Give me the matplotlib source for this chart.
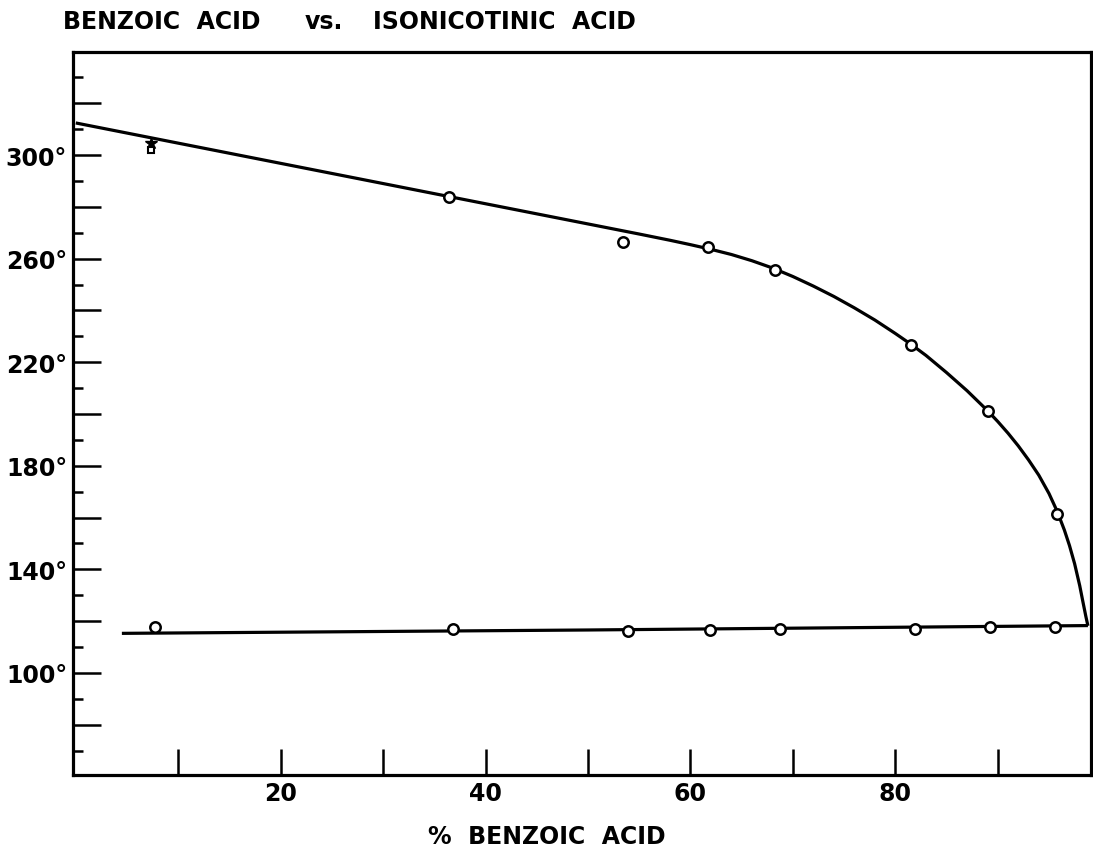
import matplotlib
matplotlib.use("Agg")
import matplotlib.pyplot as plt
from matplotlib.ticker import FixedLocator, NullFormatter, FixedFormatter

# ---- data ----
upper_x = [36.4, 53.4, 61.7, 68.3, 81.5, 89.0, 95.8]
upper_y = [283.9, 266.3, 264.6, 255.6, 226.8, 201.2, 161.4]

odd_x = [7.3]
odd_star_y = [304.6]
odd_square_y = [301.8]

lower_x = [7.7, 36.8, 53.9, 61.9, 68.7, 81.9, 89.2, 95.6]
lower_y = [117.6, 117.1, 116.4, 116.5, 117.0, 116.8, 117.6, 117.8]

# hand-drawn liquidus curve
liquidus_x = [0, 10, 20, 30, 40, 50, 55, 58, 60, 62, 64, 66, 68, 70, 72, 74, 76, 78,
              80, 81.5, 83, 85, 87, 89, 90, 91, 92, 93, 94, 95, 95.8, 96.5, 97,
              97.5, 98, 98.3, 98.6, 98.8]
liquidus_y = [312.4, 304.6, 296.8, 289.0, 281.2, 273.4, 269.5, 267.1, 265.4, 263.6,
              261.6, 259.2, 256.4, 253.1, 249.4, 245.4, 241.0, 236.3, 231.1, 227.0,
              222.6, 216.0, 209.0, 201.3, 197.1, 192.6, 187.7, 182.3, 176.4, 169.3,
              162.4, 155.2, 149.2, 142.2, 133.7, 127.7, 121.8, 118.2]

solidus_x = [4.5, 50, 98.8]
solidus_y = [115.3, 116.6, 118.3]

x_major = [10, 20, 30, 40, 50, 60, 70, 80, 90]
x_labels = ["", "20", "", "40", "", "60", "", "80", ""]
y_major = [80, 100, 120, 140, 160, 180, 200, 220, 240, 260, 280, 300, 320]
y_major_labels = ["", "100°", "", "140°", "", "180°", "", "220°", "", "260°", "", "300°", ""]
y_minor = [70, 90, 110, 130, 150, 170, 190, 210, 230, 250, 270, 290, 310, 330]

title_parts = ["BENZOIC  ACID", "vs.", "ISONICOTINIC  ACID"]
xlabel = "%  BENZOIC  ACID"

# ---- figure ----
W, H = 1093, 853
fig = plt.figure(figsize=(W / 100, H / 100), dpi=100)
ax = fig.add_axes([72.7 / W, (H - 776) / H, (1091 - 72.7) / W, (776 - 53) / H])

lw = 2.3
ax.plot(liquidus_x, liquidus_y, color="black", lw=lw, solid_capstyle="butt",
        solid_joinstyle="round", zorder=2)
ax.plot(solidus_x, solidus_y, color="black", lw=lw, solid_capstyle="butt", zorder=2)
ax.plot(upper_x, upper_y, "o", ms=7.5, mfc="white", mec="black", mew=1.8, zorder=3)
ax.plot(lower_x, lower_y, "o", ms=7.5, mfc="white", mec="black", mew=1.8, zorder=3)
ax.plot(odd_x, odd_star_y, "*", ms=9, color="black", zorder=3)
ax.plot(odd_x, odd_square_y, "s", ms=4.5, mfc="white", mec="black", mew=1.5, zorder=3)

ax.set_xlim(-0.3, 99.1)
ax.set_ylim(60.6, 339.8)

for s in ax.spines.values():
    s.set_linewidth(2.3)

ax.xaxis.set_major_locator(FixedLocator(x_major))
ax.xaxis.set_major_formatter(FixedFormatter(x_labels))
ax.yaxis.set_major_locator(FixedLocator(y_major))
ax.yaxis.set_major_formatter(FixedFormatter(y_major_labels))
ax.yaxis.set_minor_locator(FixedLocator(y_minor))
ax.yaxis.set_minor_formatter(NullFormatter())

ax.tick_params(axis="x", which="major", direction="in", length=19, width=1.8, pad=4,
               labelsize=17)
ax.tick_params(axis="y", which="major", direction="in", length=20, width=1.8, pad=4,
               labelsize=17)
ax.tick_params(axis="y", which="minor", direction="in", length=7, width=1.8)
for lab in ax.get_xticklabels() + ax.get_yticklabels():
    lab.set_fontweight("bold")

fig.text(547 / W, 1 - 837 / H, xlabel, ha="center", va="center",
         fontsize=17, fontweight="bold")
fig.text(63 / W, 1 - 22 / H, title_parts[0], ha="left", va="center", fontsize=17, fontweight="bold")
fig.text(305 / W, 1 - 22 / H, title_parts[1], ha="left", va="center", fontsize=17, fontweight="bold")
fig.text(373 / W, 1 - 22 / H, title_parts[2], ha="left", va="center", fontsize=17, fontweight="bold")

fig.savefig("out.png", dpi=100, facecolor="white")
